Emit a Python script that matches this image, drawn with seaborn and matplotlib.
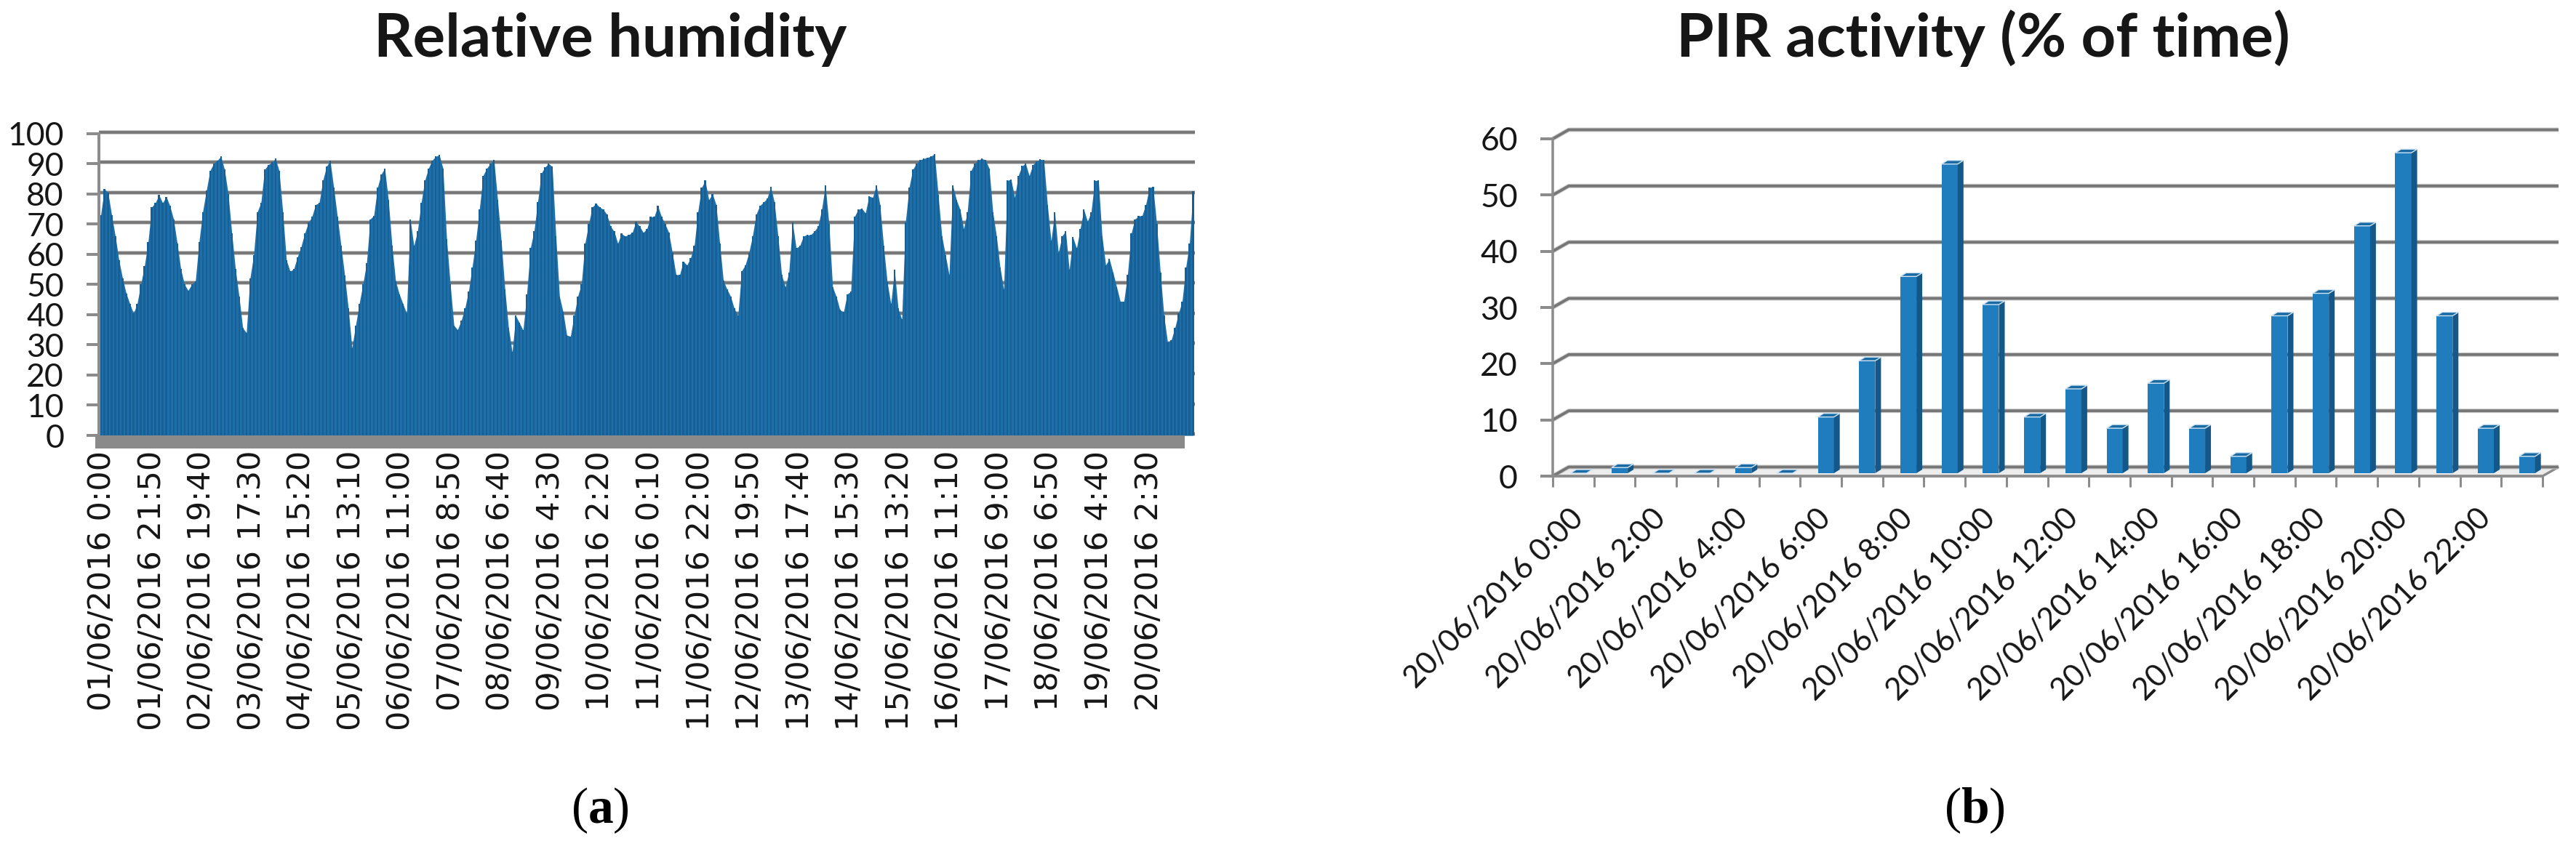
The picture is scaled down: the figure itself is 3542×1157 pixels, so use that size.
import numpy as np
import pandas as pd
import matplotlib
matplotlib.use("Agg")
import matplotlib.pyplot as plt
from matplotlib.patches import Polygon
import seaborn as sns

# ---------- data: relative humidity ----------
humidity = [
    73,81.6,80.4,73,66,58,52,47,43.6,40.4,43.6,50,56,64,75.6,77,79.6,77,79,76,71.6,63.6,55,50,48,50,51,64,74,81,
    87.6,90,91,92.4,88,80,67,55,46,35.6,34,52,59.6,74,77,88,89.6,90.4,91.6,87.6,74,
    58,54.4,55,59,62.4,66.8,70.4,72.4,76.4,77,84.4,89,91,82,72.4,62.8,53,42,29,36.4,43.6,50,57,71.6,72.8,82,86.4,88.4,78,62.8,
    51,46.8,43.6,40.4,71.6,62.8,67.6,77,84.4,88.4,91,92.4,92.8,88.4,65,50,36.4,35,38,42,
    47.6,55.6,64.4,74.8,86,88.4,90,91.2,78,64.4,48.4,35.6,27.6,39.6,37.2,34.8,46.8,62,67.6,77.2,86.8,88.8,90,89,66,46,40.8,33.2,32.8,39.6,
    46,50,63.6,70,75.6,76.8,75.6,74.8,73.2,69.2,67.6,63.6,66.8,66,66.4,67.2,70.8,69.2,67.2,68.4,
    72.4,72.4,76,72.4,70,67.2,60.4,53.2,53.2,57.6,56.4,58.8,62.8,74,82,84.4,78,80,76.4,63.6,51.2,48.4,46,42,39.6,54.4,56.4,60.4,66,73.2,
    76,77.2,78.4,82.4,77.2,66,53.2,49.2,54,70.4,62,62.8,66,66.4,66.4,67.6,69.2,74.8,82.8,70,
    49.2,46,41.6,40.8,46.8,47.6,72.4,74.8,75.2,73.6,79.2,78.8,82.8,76.4,62.8,50.8,43.6,54.8,42,38.4,70.4,82,88,90,91.2,91.6,92,92.4,93.2,79.6,
    66,59.6,53.2,82.8,78,74.8,68.4,74,87.6,90,91.2,91.6,91.2,88.4,74,66,55.6,48.4,84.4,84.8,
    78.8,86,89.2,90,86,89.6,90.8,91.4,91.2,76.4,64.4,74,60.4,66,67.6,54.8,65.6,62,68.4,74.8,70.8,74,84.4,84.4,66,56.4,58.4,54,49.2,44.4,
    44.4,53.2,66.8,71.6,72.6,72.8,76.4,82,82.4,70,54,39.6,30.8,31.6,35.6,40.4,44.4,55.6,63.6,80.8,
]
humidity_labels = [
    "01/06/2016 0:00", "01/06/2016 21:50", "02/06/2016 19:40", "03/06/2016 17:30",
    "04/06/2016 15:20", "05/06/2016 13:10", "06/06/2016 11:00", "07/06/2016 8:50",
    "08/06/2016 6:40", "09/06/2016 4:30", "10/06/2016 2:20", "11/06/2016 0:10",
    "11/06/2016 22:00", "12/06/2016 19:50", "13/06/2016 17:40", "14/06/2016 15:30",
    "15/06/2016 13:20", "16/06/2016 11:10", "17/06/2016 9:00", "18/06/2016 6:50",
    "19/06/2016 4:40", "20/06/2016 2:30",
]
humidity_ticks = list(range(0, 101, 10))

# ---------- data: PIR activity ----------
pir_hours = [f"20/06/2016 {h}:00" for h in range(24)]
pir_activity = [0, 1, 0, 0, 1, 0, 10, 20, 35, 55, 30, 10, 15, 8, 16, 8, 3, 28, 32, 44, 57, 28, 8, 3]
pir_ticks = list(range(0, 61, 10))

# ---------- style ----------
W, H = 3542, 1157
sns.set_theme(style="white")
plt.rcParams["font.family"] = ["Lato", "DejaVu Sans"]
plt.rcParams["mathtext.fontset"] = "custom"
plt.rcParams["mathtext.bf"] = "Liberation Serif:bold"
plt.rcParams["mathtext.rm"] = "Liberation Serif"

GRID_DARK = "#767676"
GRID_HALO = "#cccccc"
AXIS = "#8c8c8c"
TEXT = "#161616"
PX = 0.72  # points per pixel at dpi 100


def axes_px(fig, x0, x1, ybottom, ytop, **kw):
    return fig.add_axes([x0 / W, 1 - ybottom / H, (x1 - x0) / W, (ybottom - ytop) / H], **kw)


fig = plt.figure(figsize=(W / 100, H / 100), dpi=100, facecolor="white")

# ---------- (a) relative humidity ----------
ax = axes_px(fig, 136, 1643, 599, 183.5)
df_h = pd.DataFrame({"sample": np.arange(len(humidity)), "rh": humidity})
ax.set_axisbelow(True)
for v in humidity_ticks:
    ax.hlines(v + 0.45, 0, 1, transform=ax.get_yaxis_transform(), color=GRID_HALO, lw=6 * PX, zorder=0.5, clip_on=False)
    ax.hlines(v + 0.45, 0, 1, transform=ax.get_yaxis_transform(), color=GRID_DARK, lw=3.8 * PX, zorder=0.6, clip_on=False)
ax.fill_between(df_h["sample"], 0, df_h["rh"], color="#1d6fa9", lw=0, zorder=1.8)
sns.barplot(data=df_h, x="sample", y="rh", ax=ax, color="#185f95", saturation=1, width=0.45,
            linewidth=0, zorder=2)
ax.set_xlim(-0.5, len(humidity) - 0.5)
ax.set_ylim(0, 100)
ax.set_xlabel("")
ax.set_ylabel("")
ax.axhspan(-4.25, 0, xmin=-0.003, xmax=0.991, color="#8a8a8a", lw=0, clip_on=False, zorder=3)
label_step = len(humidity) / (2880 / 131)
ax.set_xticks(np.arange(len(humidity_labels)) * label_step + 0.3)
ax.set_xticklabels(humidity_labels, rotation=90, ha="center", va="top",
                   family="DejaVu Sans", fontsize=31, color=TEXT)
ax.set_yticks(humidity_ticks)
ax.set_yticklabels([str(v) for v in humidity_ticks], fontsize=32, color=TEXT)
ax.tick_params(axis="x", length=0, pad=15)
ax.tick_params(axis="y", length=17 * PX, width=4 * PX, color=AXIS, pad=31 * PX, left=True)
sns.despine(ax=ax, top=True, right=True, bottom=True, left=False)
ax.spines["left"].set_color(AXIS)
ax.spines["left"].set_linewidth(4 * PX)
ax.set_title("Relative humidity", fontsize=60, fontweight="bold", color=TEXT,
             x=(839 - 136) / 1507, y=(599 - 78) / (599 - 183.5), pad=0, va="baseline")

# ---------- (b) PIR activity: walls and floor ----------
wall = axes_px(fig, 2135, 3496, 655, 191)
n = len(pir_activity)
wall.set_xlim(0, n)
wall.set_ylim(0, 60)
depth_x = 22 / (1361 / n)
depth_y = 12.5 / (464 / 60)
wall.add_patch(Polygon([(0, 0), (n, 0), (n + depth_x, depth_y), (depth_x, depth_y)],
                       closed=True, facecolor="#ececec", edgecolor=AXIS, lw=2.4, clip_on=False, zorder=1))
for v in pir_ticks:
    xs, ys = [0, depth_x, n + depth_x], [v, v + depth_y, v + depth_y]
    wall.plot(xs, ys, color=GRID_HALO, lw=6 * PX, clip_on=False, zorder=1.2, solid_capstyle="butt")
    wall.plot(xs, ys, color=GRID_DARK, lw=3.8 * PX, clip_on=False, zorder=1.3, solid_capstyle="butt")
wall.set_xticks(np.arange(n + 1))
wall.set_xticklabels([])
wall.set_yticks(pir_ticks)
wall.set_yticklabels([str(v) for v in pir_ticks], fontsize=32, color=TEXT)
wall.tick_params(axis="x", length=15 * PX, width=3 * PX, color=AXIS, bottom=True, pad=0)
wall.tick_params(axis="y", length=17 * PX, width=4 * PX, color=AXIS, pad=31 * PX, left=True)
sns.despine(ax=wall, top=True, right=True, bottom=False, left=False)
for s in ("left", "bottom"):
    wall.spines[s].set_color(AXIS)
    wall.spines[s].set_linewidth(3.5 * PX)
wall.set_title("PIR activity (% of time)", fontsize=60, fontweight="bold", color=TEXT,
               x=(2727 - 2135) / 1361, y=(655 - 78) / 464, pad=0, va="baseline")

# ---------- (b) PIR activity: bars, sitting mid-depth on the floor ----------
bars = axes_px(fig, 2142, 3503, 651, 187, facecolor="none")
df_p = pd.DataFrame({"hour": pir_hours, "activity": pir_activity})
sns.barplot(data=df_p, x="hour", y="activity", ax=bars, color="#1f7dbd", saturation=1, width=0.39, linewidth=0, zorder=3)
bars.set_xlim(-0.5, n - 0.5)
bars.set_ylim(0, 60)
bars.set_xlabel("")
bars.set_ylabel("")
side_x, side_y = 8 / (1361 / n), 5 / (464 / 60)
for patch in list(bars.patches):
    x0, x1 = patch.get_x(), patch.get_x() + patch.get_width()
    h = patch.get_height()
    bars.add_patch(Polygon([(x1, 0), (x1 + side_x, side_y), (x1 + side_x, h + side_y), (x1, h)],
                           closed=True, facecolor="#14588a", lw=0, zorder=3, clip_on=False))
    bars.add_patch(Polygon([(x0, h), (x1, h), (x1 + side_x, h + side_y), (x0 + side_x, h + side_y)],
                           closed=True, facecolor="#1a6ba4", edgecolor="#cfe3f2", lw=1.0, zorder=3.2, clip_on=False))
bars.set_xticks(np.arange(0, n, 2))
bars.set_xticklabels(pir_hours[::2], rotation=45, ha="right", va="center", rotation_mode="anchor",
                     fontsize=30.5, color=TEXT)
bars.tick_params(axis="x", length=0, pad=40)
bars.set_yticks([])
for s in bars.spines.values():
    s.set_visible(False)

# ---------- captions ----------
for cx, letter in ((825, "a"), (2715, "b")):
    fig.text(cx / W, 1 - 1132 / H, rf"($\mathbf{{{letter}}}$)", ha="center", va="baseline",
             fontsize=50, color="black", family="Liberation Serif")

fig.savefig("out.png", dpi=100, facecolor="white")
